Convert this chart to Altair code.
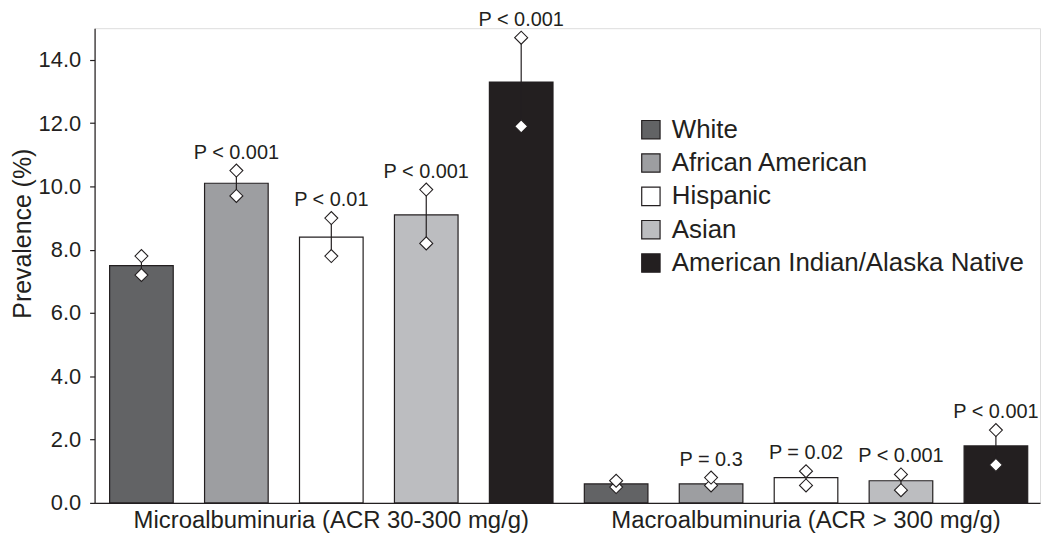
import altair as alt
import pandas as pd

# ---- data ----
races = ["White", "African American", "Hispanic", "Asian", "American Indian/Alaska Native"]
colors = ["#626365", "#9d9ea1", "#ffffff", "#bcbdc0", "#231f20"]

group_keys = ["Micro", "Macro"]
group_labels = ["Microalbuminuria (ACR 30-300 mg/g)", "Macroalbuminuria (ACR > 300 mg/g)"]

micro_prev = [7.5, 10.1, 8.4, 9.1, 13.3]
micro_lo = [7.2, 9.7, 7.8, 8.2, 11.9]
micro_hi = [7.8, 10.5, 9.0, 9.9, 14.7]
micro_p = ["", "P < 0.001", "P < 0.01", "P < 0.001", "P < 0.001"]

macro_prev = [0.6, 0.6, 0.8, 0.7, 1.8]
macro_lo = [0.5, 0.55, 0.55, 0.4, 1.2]
macro_hi = [0.7, 0.8, 1.0, 0.9, 2.3]
macro_p = ["", "P = 0.3", "P = 0.02", "P < 0.001", "P < 0.001"]

y_ticks = [0, 2, 4, 6, 8, 10, 12, 14]

# ---- build table ----
rows = []
for g, prev, lo, hi, pv in [
    ("Micro", micro_prev, micro_lo, micro_hi, micro_p),
    ("Macro", macro_prev, macro_lo, macro_hi, macro_p),
]:
    for r, v, l, h, p in zip(races, prev, lo, hi, pv):
        rows.append({"key": f"{g}|{r}", "race": r, "prev": v, "lo": l, "hi": h, "p": p})
df = pd.DataFrame(rows)
keys = list(df["key"])

lab_df = pd.DataFrame({"key": [f"{g}|Hispanic" for g in group_keys], "label": group_labels})

FONT = "Liberation Sans"
INK = "#231f20"
W, H = 950, 477

xscale = alt.Scale(domain=keys, paddingInner=0.33, paddingOuter=0.144, align=0.55)
yscale = alt.Scale(domain=[0, 15], nice=False, zero=True)

x_enc = alt.X("key:N", scale=xscale, sort=keys,
              axis=alt.Axis(labels=False, ticks=False, title=None, domainColor=INK, domainWidth=1.2))
y_enc = alt.Y("prev:Q", scale=yscale,
              axis=alt.Axis(title="Prevalence (%)", values=y_ticks, format=".1f", grid=False,
                            tickSize=5, tickColor=INK, tickWidth=1.2, domainColor=INK, domainWidth=1.2,
                            labelPadding=9, labelFontSize=22, labelFont=FONT, labelColor=INK,
                            titleFontSize=25, titleFont=FONT, titleColor=INK, titleFontWeight="normal",
                            titleX=-59, titleY=206))

bars = alt.Chart(df).mark_bar(stroke=INK, strokeWidth=1.2).encode(
    x=x_enc,
    y=y_enc,
    fill=alt.Fill("race:N", scale=alt.Scale(domain=races, range=colors), sort=races,
                  legend=alt.Legend(title=None, orient="none", legendX=546, legendY=89,
                                    symbolType="square", symbolSize=340, symbolStrokeColor=INK,
                                    symbolStrokeWidth=1.2, labelFontSize=26, labelFont=FONT,
                                    labelColor=INK, labelOffset=8, rowPadding=7.5, padding=0,
                                    labelLimit=500)),
)

rules = alt.Chart(df).mark_rule(color=INK, strokeWidth=1.2).encode(
    x=alt.X("key:N", scale=xscale, sort=keys),
    y=alt.Y("lo:Q", scale=yscale),
    y2="hi:Q",
)

pts_lo = alt.Chart(df).mark_point(shape="diamond", filled=True, fill="white", stroke=INK,
                                  strokeWidth=1.1, size=170, opacity=1).encode(
    x=alt.X("key:N", scale=xscale, sort=keys),
    y=alt.Y("lo:Q", scale=yscale),
)
pts_hi = alt.Chart(df).mark_point(shape="diamond", filled=True, fill="white", stroke=INK,
                                  strokeWidth=1.1, size=170, opacity=1).encode(
    x=alt.X("key:N", scale=xscale, sort=keys),
    y=alt.Y("hi:Q", scale=yscale),
)

ptext = alt.Chart(df).transform_filter("datum.p != ''").mark_text(
    fontSize=20, font=FONT, color=INK, baseline="middle", dy=-18).encode(
    x=alt.X("key:N", scale=xscale, sort=keys),
    y=alt.Y("hi:Q", scale=yscale),
    text="p:N",
)

glabels = alt.Chart(lab_df).mark_text(
    fontSize=24, font=FONT, color=INK, baseline="top").encode(
    x=alt.X("key:N", scale=xscale, sort=keys),
    y=alt.value(H + 6),
    text="label:N",
)

chart = alt.layer(bars, rules, pts_lo, pts_hi, ptext, glabels).properties(
    width=W, height=H,
    autosize=alt.AutoSizeParams(type="none"),
    padding={"left": 87, "top": 19, "right": 2, "bottom": 31},
).configure_view(stroke=None).configure(background="white")

chart.save("out.html", embed_options={"renderer": "svg", "actions": False})
